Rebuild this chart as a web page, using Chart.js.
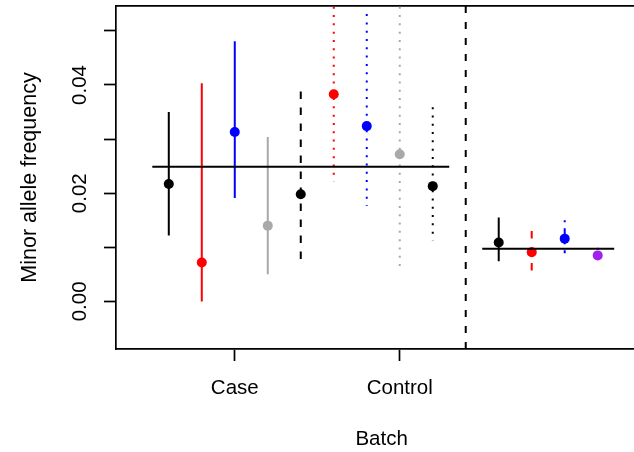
<!DOCTYPE html>
<html>
<head>
<meta charset="utf-8">
<script src="https://cdn.jsdelivr.net/npm/chart.js@4/dist/chart.umd.min.js"></script>
<style>
  html, body { margin: 0; padding: 0; background: #fff; overflow: hidden; }
  canvas { display: block; }
</style>
</head>
<body>
<canvas id="maf" width="634" height="452"></canvas>
<script>
// Batch labels on the x axis and their positions
const batchNames = ['Case', 'Control'];
const batchTicks = [1, 2];

// y axis ticks (labels only on every other tick)
const yTickValues = [0, 0.01, 0.02, 0.03, 0.04, 0.05];
const yTickLabels = ['0.00', '', '0.02', '', '0.04', ''];

// plotting window
const xLimits = [0.28, 3.5];
const xVisibleMax = 3.42;
const yLimits = [-0.0088, 0.0546];

// per-group estimates with confidence limits
const groupX  = [0.6, 0.8, 1.0, 1.2, 1.4, 1.6, 1.8, 2.0, 2.2, 2.6, 2.8, 3.0, 3.2];
const freq    = [0.0217, 0.0072, 0.0313, 0.0140, 0.0198, 0.0383, 0.0324, 0.0272, 0.0213, 0.0109, 0.0091, 0.0116, 0.0085];
const ciLow   = [0.0122, 0.0000, 0.0191, 0.0050, 0.0077, 0.0222, 0.0177, 0.0056, 0.0113, 0.0074, 0.0057, 0.0089, 0.0068];
const ciHigh  = [0.0350, 0.0403, 0.0481, 0.0304, 0.0388, 0.0560, 0.0531, 0.0560, 0.0359, 0.0155, 0.0130, 0.0150, 0.0099];

// pooled frequencies and the ranges they span
const pooledLeft  = { value: 0.0249, from: 0.5, to: 2.3 };
const pooledRight = { value: 0.00975, from: 2.5, to: 3.3 };
const dividerX = 2.4;

// drawing styles
const groupColors = ['#000000', '#ff0000', '#0000ff', '#a9a9a9',
                     '#000000', '#ff0000', '#0000ff', '#a9a9a9', '#000000',
                     '#000000', '#ff0000', '#0000ff', '#a020f0'];
const groupLty = ['solid', 'solid', 'solid', 'solid',
                  'dashed', 'dotted', 'dotted', 'dotted', 'dotted',
                  'solid', 'dashed', 'dotdash', 'dotted'];
const dashPatterns = { solid: [], dashed: [7.5, 8.5], dotted: [2, 6.3], dotdash: [2, 6, 8, 6] };

const FONT = '"Liberation Sans", Arial, Helvetica, sans-serif';
const FONT_SIZE = 20.5;

const datasets = [];

// confidence intervals
groupX.forEach((x, i) => {
  datasets.push({
    type: 'line',
    data: [{ x: x, y: ciHigh[i] }, { x: x, y: ciLow[i] }],
    borderColor: groupColors[i],
    borderWidth: 2,
    borderDash: dashPatterns[groupLty[i]],
    borderCapStyle: 'butt',
    pointRadius: 0,
    tension: 0,
    order: 3
  });
});

// point estimates
datasets.push({
  type: 'scatter',
  data: groupX.map((x, i) => ({ x: x, y: freq[i] })),
  pointRadius: 5,
  pointBorderWidth: 0,
  pointBackgroundColor: groupColors,
  pointBorderColor: groupColors,
  order: 2
});

// pooled frequency lines
[pooledLeft, pooledRight].forEach(p => {
  datasets.push({
    type: 'line',
    data: [{ x: p.from, y: p.value }, { x: p.to, y: p.value }],
    borderColor: '#000000',
    borderWidth: 2,
    pointRadius: 0,
    order: 1
  });
});

// divider between the two panels
datasets.push({
  type: 'line',
  data: [{ x: dividerX, y: yLimits[1] }, { x: dividerX, y: yLimits[0] }],
  borderColor: '#000000',
  borderWidth: 2,
  borderDash: [7, 9],
  borderCapStyle: 'butt',
  pointRadius: 0,
  order: 1
});

const batchTitle = {
  id: 'batchTitle',
  afterDraw(chart) {
    const { ctx, chartArea, scales } = chart;
    const cx = (scales.x.getPixelForValue(xLimits[0]) + scales.x.getPixelForValue(xLimits[1])) / 2;
    ctx.save();
    ctx.font = FONT_SIZE + 'px ' + FONT;
    ctx.fillStyle = '#000000';
    ctx.textAlign = 'center';
    ctx.textBaseline = 'alphabetic';
    ctx.fillText('Batch', cx, chartArea.bottom + 96);
    ctx.restore();
  }
};

// fixed axis sizes, no extra label padding around the plot box
const fixSize = (prop, size) => s => {
  s[prop] = size;
  s.paddingTop = 0; s.paddingBottom = 0; s.paddingLeft = 0; s.paddingRight = 0;
};

new Chart(document.getElementById('maf'), {
  type: 'scatter',
  data: { datasets },
  plugins: [batchTitle],
  options: {
    responsive: false,
    animation: false,
    devicePixelRatio: 1,
    layout: { padding: 0, autoPadding: false },
    plugins: { legend: { display: false }, tooltip: { enabled: false } },
    scales: {
      x: {
        type: 'linear',
        position: 'bottom',
        min: xLimits[0],
        max: xVisibleMax,
        afterBuildTicks: s => { s.ticks = batchTicks.map(v => ({ value: v })); },
        afterFit: fixSize('height', 103),
        ticks: {
          autoSkip: false,
          maxRotation: 0,
          padding: 15,
          color: '#000000',
          font: { family: FONT, size: FONT_SIZE },
          callback: (v, i) => batchNames[i]
        },
        grid: { drawOnChartArea: false, drawTicks: true, tickLength: 12, tickWidth: 1.7, tickColor: '#000000', color: '#000000' },
        border: { display: true, color: '#000000', width: 1.7 }
      },
      xTop: {
        type: 'linear',
        position: 'top',
        min: xLimits[0],
        max: xVisibleMax,
        afterFit: fixSize('height', 6),
        ticks: { display: false },
        grid: { display: false, drawTicks: false },
        border: { display: true, color: '#000000', width: 1.7 }
      },
      y: {
        type: 'linear',
        position: 'left',
        min: yLimits[0],
        max: yLimits[1],
        afterBuildTicks: s => { s.ticks = yTickValues.map(v => ({ value: v })); },
        afterFit: fixSize('width', 116),
        ticks: {
          autoSkip: false,
          minRotation: 90,
          maxRotation: 90,
          crossAlign: 'center',
          padding: 4,
          color: '#000000',
          font: { family: FONT, size: FONT_SIZE },
          callback: (v, i) => yTickLabels[i]
        },
        grid: { drawOnChartArea: false, drawTicks: true, tickLength: 12, tickWidth: 1.7, tickColor: '#000000', color: '#000000' },
        border: { display: true, color: '#000000', width: 1.7 },
        title: {
          display: true,
          text: 'Minor allele frequency',
          color: '#000000',
          font: { family: FONT, size: 21.5 },
          padding: { top: 17.5, bottom: 0 }
        }
      }
    }
  }
});
</script>
</body>
</html>
